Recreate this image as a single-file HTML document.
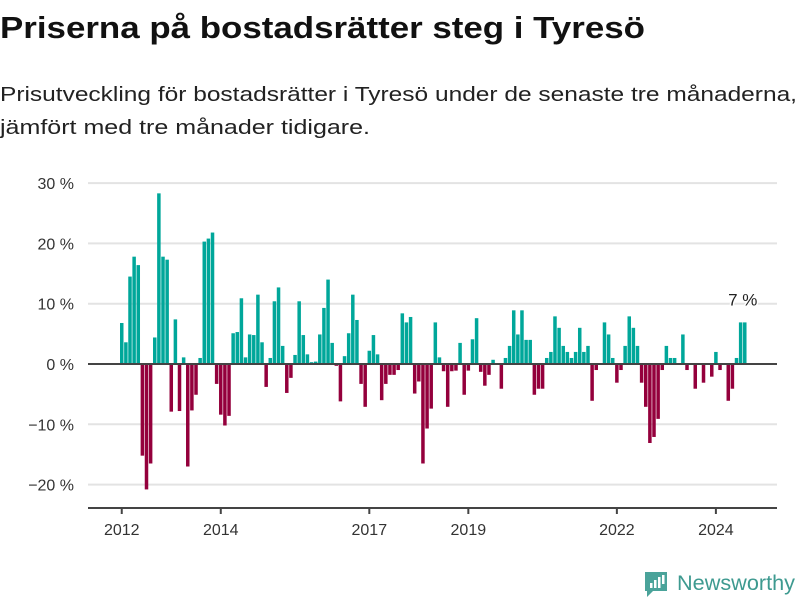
<!DOCTYPE html>
<html><head><meta charset="utf-8"><style>
html,body{margin:0;padding:0;background:#fff;width:800px;height:600px;overflow:hidden}
svg{display:block;font-family:"Liberation Sans",sans-serif}
</style></head><body>
<svg id="chart" width="800" height="600" viewBox="0 0 800 600">
<text x="0" y="38" font-size="31" font-weight="bold" fill="#111" textLength="645" lengthAdjust="spacingAndGlyphs">Priserna på bostadsrätter steg i Tyresö</text>
<text x="0" y="101" font-size="20" fill="#222" textLength="797" lengthAdjust="spacingAndGlyphs">Prisutveckling för bostadsrätter i Tyresö under de senaste tre månaderna,</text>
<text x="0" y="134" font-size="20" fill="#222" textLength="370" lengthAdjust="spacingAndGlyphs">jämfört med tre månader tidigare.</text>
<g id="grid"></g><g id="bars"></g><g id="axes"></g>
<g>
<path d="M645 572 h22 v19 h-14 l-6 6 v-6 h-2 z" fill="#4aa39a"/>
<rect x="650" y="583" width="2.5" height="5" fill="#fff"/><rect x="654" y="580" width="2.5" height="8" fill="#fff"/><rect x="658" y="577" width="2.5" height="11" fill="#fff"/><rect x="662" y="575" width="2.5" height="9" fill="#fff"/>
<text x="677" y="590" font-size="21" fill="#3e9a90" textLength="118" lengthAdjust="spacingAndGlyphs">Newsworthy</text>
</g>
</svg>
<script>
const startYear = 2012;
const values = [6.8,3.6,14.5,17.8,16.4,-15.2,-20.8,-16.5,4.4,28.3,17.8,17.3,-7.9,7.4,-7.8,1.1,-17,-7.7,-5.1,1.0,20.3,20.8,21.8,-3.3,
-8.4,-10.2,-8.6,5.1,5.3,10.9,1.1,4.9,4.8,11.5,3.6,-3.8,1.0,10.4,12.7,3.0,-4.8,-2.3,1.5,10.4,4.8,1.6,0.3,0.4,
4.9,9.3,14.0,3.5,-0.3,-6.2,1.3,5.1,11.5,7.3,-3.3,-7.1,2.2,4.8,1.6,-6.0,-3.3,-1.8,-1.8,-1.0,8.4,6.9,7.8,-4.9,
-2.9,-16.5,-10.7,-7.4,6.9,1.1,-1.2,-7.1,-1.2,-1.1,3.5,-5.1,-1.1,4.1,7.6,-1.3,-3.6,-1.8,0.7,0,-4.1,1.0,3.0,8.9,
4.9,8.9,4.0,4.0,-5.1,-4.1,-4.1,1.0,2.0,7.9,6.0,3.0,2.0,1.0,2.0,6.0,2.0,3.0,-6.1,-1.0,0,6.9,4.9,1.0,
-3.1,-1.0,3.0,7.9,6.0,3.0,-3.1,-7.1,-13.1,-12.1,-9.1,-1.0,3.0,1.0,1.0,0,4.9,-1.0,0,-4.1,0,-3.1,0,-2.1,
2.0,-1.0,0,-6.1,-4.1,1.0,6.9,6.9];
const yTicks = [-20,-10,0,10,20,30];
const yTickLabels = ["\u221220 %","\u221210 %","0 %","10 %","20 %","30 %"];
const xTickYears = [2012,2014,2017,2019,2022,2024];
const lastLabel = "7 %";

const NS="http://www.w3.org/2000/svg";
const x0=120, step=4.126, bw=3.5;
function xPos(i){return x0+i*step;}
function yPos(v){return 364-v*6.03;}
function mk(tag,attrs,parent){const e=document.createElementNS(NS,tag);for(const k in attrs)e.setAttribute(k,attrs[k]);parent.appendChild(e);return e;}
const grid=document.getElementById('grid'),bars=document.getElementById('bars'),axes=document.getElementById('axes');
yTicks.forEach((t,k)=>{
  if(t!==0){const l=mk('line',{x1:88,x2:777,y1:yPos(t),y2:yPos(t),stroke:'#e3e3e3','stroke-width':2},grid);
  
  }
  const tx=mk('text',{x:74,y:yPos(t)+6,'text-anchor':'end','font-size':16,fill:'#333'},grid);
  tx.textContent=yTickLabels[k];
  
  
});
values.forEach((v,i)=>{
  const y=yPos(Math.max(v,0)),h=Math.abs(yPos(v)-yPos(0));
  const r=mk('rect',{x:xPos(i),y:y,width:bw,height:h,fill:v>=0?'#00a79a':'#94003c'},bars);
  
  
});
const z=mk('line',{x1:88,x2:777,y1:yPos(0),y2:yPos(0),stroke:'#444','stroke-width':2},axes);


const ax=mk('line',{x1:88,x2:777,y1:508,y2:508,stroke:'#444','stroke-width':2},axes);


xTickYears.forEach(yr=>{
  const cx=xPos((yr-startYear)*12)+bw/2;
  const tk=mk('line',{x1:cx,x2:cx,y1:508,y2:514,stroke:'#444','stroke-width':2},axes);
  
  
  const tl=mk('text',{x:cx,y:535,'text-anchor':'middle','font-size':16,fill:'#333'},axes);
  tl.textContent=yr;
  
  
});
const li=values.length-1;
const ll=mk('text',{x:xPos(li)+bw/2-2,y:yPos(values[li])-17,'text-anchor':'middle','font-size':17,fill:'#222',stroke:'#fff','stroke-width':3,'paint-order':'stroke'},axes);
ll.textContent=lastLabel;


</script>
</body></html>
